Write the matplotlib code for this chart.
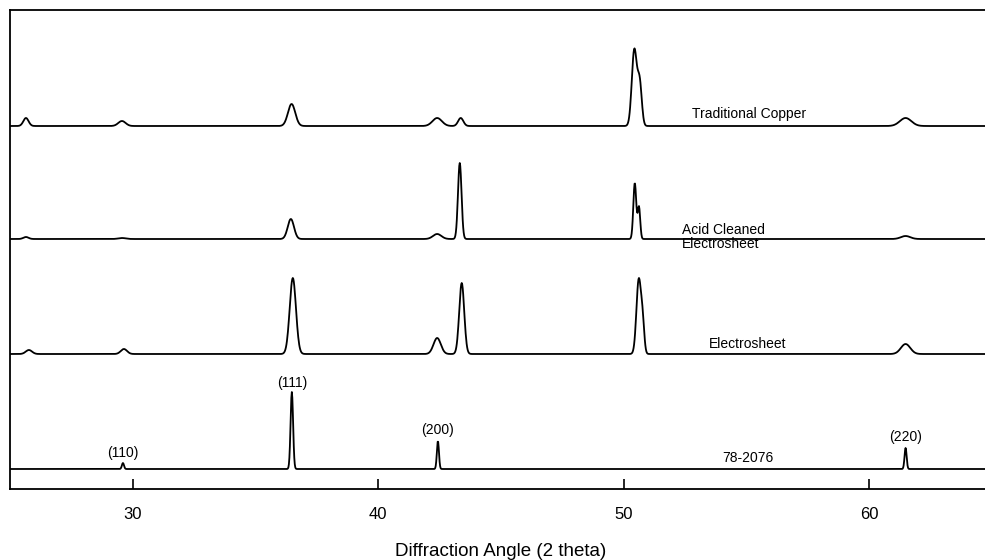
import numpy as np
import matplotlib
matplotlib.use("Agg")
import matplotlib.pyplot as plt

plt.rcParams['font.family'] = ['Liberation Sans', 'DejaVu Sans']

# Peak lists: position (2 theta), height, FWHM (deg)
tc_pos = [25.65, 29.56, 36.47, 42.40, 43.36, 50.43, 50.65, 61.48]
tc_h   = [8, 5, 22, 8, 8, 76, 42, 8]
tc_w   = [0.25, 0.35, 0.35, 0.45, 0.25, 0.24, 0.20, 0.55]
tc_base = 363

ac_pos = [25.65, 29.56, 36.44, 42.40, 43.32, 50.45, 50.62, 61.48]
ac_h   = [2, 1, 20, 5, 76, 56, 32, 3]
ac_w   = [0.25, 0.35, 0.30, 0.40, 0.17, 0.14, 0.12, 0.45]
ac_base = 250

es_pos = [25.77, 29.64, 36.52, 42.40, 43.40, 50.61, 50.77, 61.48]
es_h   = [4, 5, 76, 16, 71, 74, 28, 10]
es_w   = [0.3, 0.3, 0.30, 0.35, 0.24, 0.22, 0.16, 0.45]
es_base = 135

ref_pos = [29.60, 36.48, 42.43, 61.48]
ref_h   = [6, 77, 28, 21]
ref_w   = [0.10, 0.12, 0.10, 0.10]
ref_base = 20

sample_labels = ["Traditional Copper", "Acid Cleaned\nElectrosheet", "Electrosheet", "78-2076"]
hkl_labels = ["(110)", "(111)", "(200)", "(220)"]

x = np.arange(25.0, 65.0, 0.02)

def profile(base, pos, h, w):
    y = np.full_like(x, float(base))
    for p, hh, ww in zip(pos, h, w):
        y += hh * np.exp(-4 * np.log(2) * (x - p) ** 2 / ww ** 2)
    return y

fig = plt.figure(figsize=(9.85, 5.6), dpi=100)
ax = fig.add_axes([10 / 985, (560 - 489) / 560, (992 - 10) / 985, 479 / 560])

for base, pos, h, w in [(tc_base, tc_pos, tc_h, tc_w), (ac_base, ac_pos, ac_h, ac_w),
                        (es_base, es_pos, es_h, es_w), (ref_base, ref_pos, ref_h, ref_w)]:
    ax.plot(x, profile(base, pos, h, w), color='black', lw=1.3)

ax.set_xlim(25, 65)
ax.set_ylim(0, 479)
ax.set_xticks([30, 40, 50, 60])
ax.set_yticks([])
ax.tick_params(axis='x', direction='in', length=7, width=1.2, labelsize=12, pad=13)
for s in ax.spines.values():
    s.set_linewidth(1.3)

fs = 10
ax.text(52.77, 375, sample_labels[0], fontsize=fs, va='center', ha='left')
ax.text(52.36, 252, sample_labels[1], fontsize=fs, va='center', ha='left', linespacing=0.95)
ax.text(53.46, 145, sample_labels[2], fontsize=fs, va='center', ha='left')
ax.text(54.03, 31, sample_labels[3], fontsize=fs, va='center', ha='left')

hkl_y = [36, 106, 59, 52]
for p, yy, lab in zip(ref_pos, hkl_y, hkl_labels):
    ax.text(p, yy, lab, fontsize=fs, ha='center', va='center')

ax.set_xlabel("Diffraction Angle (2 theta)", fontsize=13.5, labelpad=15)

fig.savefig("out.png", dpi=100)
